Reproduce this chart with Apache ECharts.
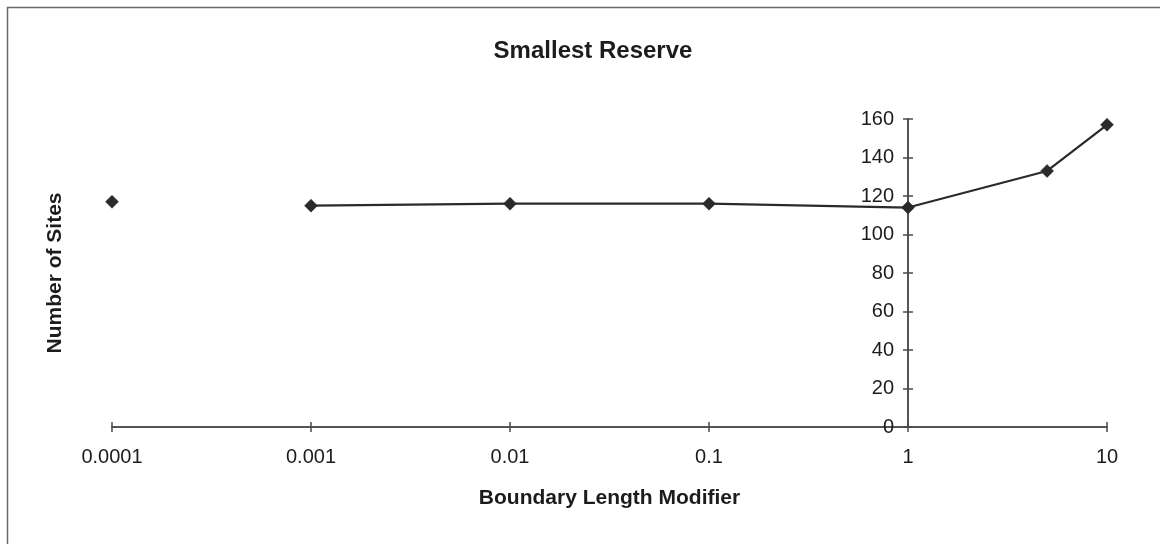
<!DOCTYPE html>
<html>
<head>
<meta charset="utf-8">
<title>Smallest Reserve</title>
<script src="https://cdn.jsdelivr.net/npm/echarts/dist/echarts.min.js"></script>
<style>
  html, body { margin: 0; padding: 0; background: #ffffff; }
  #chart { width: 1160px; height: 544px; }
</style>
</head>
<body>
<div id="chart"></div>
<script>
// Boundary length modifier (BLM) runs and the number of sites in the smallest reserve.
// A null entry leaves a gap in the line between the first run and the rest.
const blmValues  = [0.0001, null, 0.001, 0.01, 0.1, 1, 5, 10];
const siteCounts = [117,    null, 115,   116,  116, 114, 133, 157];

// Labels for the decades of the logarithmic x axis (10^-4 .. 10^1)
const xTickLabels = ['0.0001', '0.001', '0.01', '0.1', '1', '10'];
const xMinExp = -4;
const xMaxExp = 1;
// the vertical axis crosses the horizontal one at BLM = 1 (exponent 0)
const yCrossExp = 0;

// Y axis range
const yMin = 0, yMax = 160, yStep = 20;

const FONT = '"Liberation Sans", Arial, Helvetica, sans-serif';
const INK = '#1c1c1c';
const AXIS = '#4a4a4a';

// Plot area
const CHART_W = 1160;
const GRID = { left: 112, right: 53, top: 119, bottom: 117 };
const plotWidth = CHART_W - GRID.left - GRID.right;
// shift of the left-positioned y axis so it lands on the crossing value
const yAxisShift = -plotWidth * (yCrossExp - xMinExp) / (xMaxExp - xMinExp);

// Points are plotted against log10(BLM)
const seriesData = blmValues.map((b, i) =>
  (b === null || siteCounts[i] === null) ? ['-', '-'] : [Math.log10(b), siteCounts[i]]
);

const tickLabel = v => {
  const idx = Math.round(v) - xMinExp;
  return xTickLabels[idx] !== undefined ? xTickLabels[idx] : '';
};

const chart = echarts.init(document.getElementById('chart'), null, { renderer: 'canvas' });

const baseX = {
  type: 'value', min: xMinExp, max: xMaxExp, interval: 1, position: 'bottom',
  splitLine: { show: false },
  axisLine: { show: true, onZero: false, lineStyle: { color: AXIS, width: 1.5 } }
};
const baseY = {
  type: 'value', min: yMin, max: yMax, interval: yStep, position: 'left',
  offset: yAxisShift,
  splitLine: { show: false },
  axisLine: { show: true, onZero: false, lineStyle: { color: AXIS, width: 1.5 } }
};

chart.setOption({
  backgroundColor: '#ffffff',
  animation: false,
  title: {
    text: 'Smallest Reserve',
    left: 588,
    textAlign: 'center',
    top: 34,
    textStyle: { fontFamily: FONT, fontSize: 24, fontWeight: 'bold', color: INK }
  },
  graphic: [{
    // chart area frame
    type: 'rect',
    shape: { x: 7.5, y: 7.5, width: 1200, height: 600 },
    style: { fill: 'none', stroke: '#6a6a6a', lineWidth: 1.5 },
    silent: true, z: -10
  }],
  grid: Object.assign({ containLabel: false }, GRID),
  xAxis: [
    Object.assign({}, baseX, {
      name: 'Boundary Length Modifier',
      nameLocation: 'middle',
      nameGap: 61,
      nameTextStyle: { fontFamily: FONT, fontSize: 21, fontWeight: 'bold', color: INK },
      axisTick: { show: true, inside: false, length: 5, lineStyle: { color: AXIS, width: 1.5 } },
      axisLabel: { show: true, margin: 20, formatter: tickLabel,
        fontFamily: FONT, fontSize: 20, color: INK }
    }),
    Object.assign({}, baseX, {
      axisTick: { show: true, inside: true, length: 5, lineStyle: { color: AXIS, width: 1.5 } },
      axisLabel: { show: false }
    })
  ],
  yAxis: [
    Object.assign({}, baseY, {
      axisTick: { show: true, inside: false, length: 5, lineStyle: { color: AXIS, width: 1.5 } },
      axisLabel: { show: true, margin: 14, fontFamily: FONT, fontSize: 20, color: INK }
    }),
    Object.assign({}, baseY, {
      axisTick: { show: true, inside: true, length: 5, lineStyle: { color: AXIS, width: 1.5 } },
      axisLabel: { show: false }
    }),
    {
      // carries the axis title at the left edge of the plot
      type: 'value', min: yMin, max: yMax, position: 'left', offset: 0,
      splitLine: { show: false },
      axisLine: { show: false, onZero: false },
      axisTick: { show: false },
      axisLabel: { show: false },
      name: 'Number of Sites',
      nameLocation: 'middle',
      nameGap: 46,
      nameTextStyle: { fontFamily: FONT, fontSize: 21, fontWeight: 'bold', color: INK }
    }
  ],
  series: [{
    type: 'line',
    xAxisIndex: 0,
    yAxisIndex: 0,
    data: seriesData,
    connectNulls: false,
    symbol: 'diamond',
    symbolSize: 13,
    showAllSymbol: true,
    lineStyle: { color: '#2a2a2a', width: 2.2 },
    itemStyle: { color: '#2a2a2a', borderColor: '#2a2a2a', borderWidth: 0.5 }
  }]
});
</script>
</body>
</html>
